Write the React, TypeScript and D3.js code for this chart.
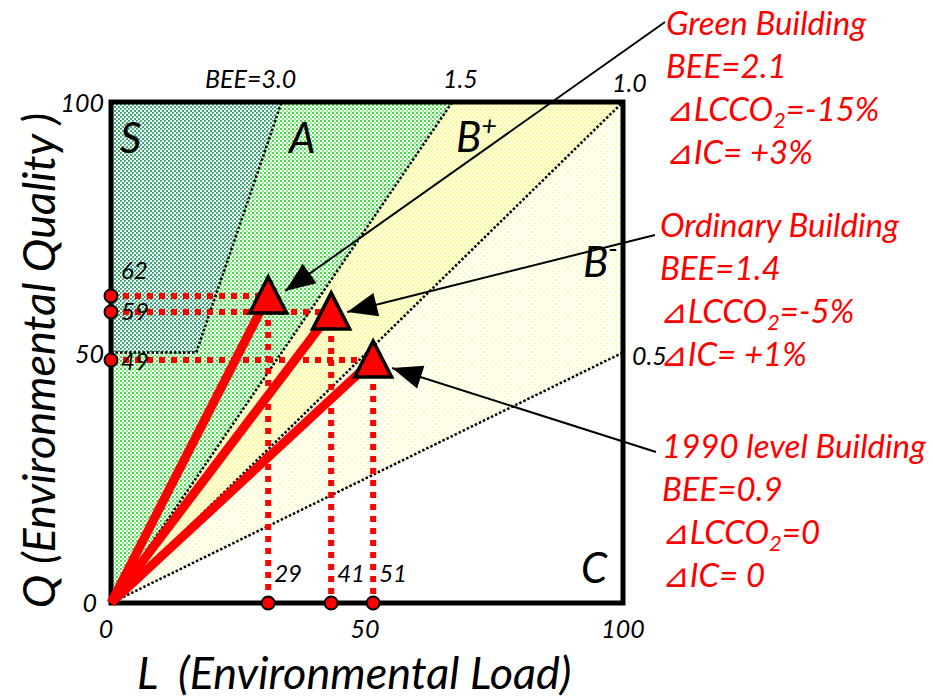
import React from "react";
import * as d3 from "d3";

// ---- data ----
const beeLines = [3.0, 1.5, 1.0, 0.5];
const beeLabels = ["BEE=3.0", "1.5", "1.0", "0.5"];
const rankNames = ["S", "A", "B", "B", "C"];
const buildingNames = ["Green Building", "Ordinary Building", "1990 level Building"];
const buildingBEE = ["2.1", "1.4", "0.9"];
const buildingLCCO2 = ["-15%", "-5%", "0"];
const buildingIC = [" +3%", " +1%", " 0"];
const buildingL = [30.7, 43.0, 51.2]; // plotted positions (L)
const buildingQ = [61.3, 58.1, 48.5]; // plotted positions (Q)
const xValueLabels = ["29", "41", "51"];
const yValueLabels = ["62", "59", "49"];
const axisTicks = [0, 50, 100];

const W = 933;
const H = 699;
const x = d3.scaleLinear().domain([0, 100]).range([111, 623]);
const y = d3.scaleLinear().domain([0, 100]).range([603, 102]);

const FONT = "Lato, 'Open Sans', 'DejaVu Sans', sans-serif";
const RED = "#ff0000";

// layout of annotation text blocks
const noteX = [666, 660, 662];
const noteY = [35, 237, 458];
const noteLineStart: [number, number][] = [
  [665, 22],
  [655, 235],
  [656, 452],
];
const tipOffset: [number, number][] = [
  [17, -5],
  [16, 0],
  [19, 8],
];

const poly = (pts: [number, number][]) =>
  d3.line()(pts.map(([l, q]) => [x(l), y(q)] as [number, number])) + "Z";

export default function App() {
  const l3 = 100 / 3;
  const l15 = 100 / 1.5;
  const sRegion = poly([[0, 50], [50 / 3, 50], [l3, 100], [0, 100]]);
  const aRegion = poly([[0, 0], [l15, 100], [l3, 100], [50 / 3, 50], [0, 50]]);
  const bpRegion = poly([[0, 0], [100, 100], [l15, 100]]);
  const bmRegion = poly([[0, 0], [100, 50], [100, 100]]);

  const beeEnd = (b: number): [number, number] =>
    b >= 1 ? [100 / b, 100] : [100, 100 * b];

  const arrowHead = (sx: number, sy: number, tx: number, ty: number) => {
    const dx = tx - sx, dy = ty - sy;
    const len = Math.hypot(dx, dy);
    const ux = dx / len, uy = dy / len;
    const L = 30, Hw = 12;
    const bx = tx - ux * L, by = ty - uy * L;
    return `M${tx},${ty}L${bx - uy * Hw},${by + ux * Hw}L${bx + uy * Hw},${by - ux * Hw}Z`;
  };

  const tickFs = 25;

  return (
    <svg
      width={W}
      height={H}
      style={{ position: "absolute", left: 0, top: 0, background: "#fff" }}
      fontFamily={FONT}
    >
      <defs>
        <pattern id="pS" width="4" height="4" patternUnits="userSpaceOnUse">
          <rect width="4" height="4" fill="#f2faf6" />
          <rect x="0" y="0" width="2" height="2" fill="#3fa777" />
          <rect x="2" y="2" width="2" height="2" fill="#3fa777" />
          <rect x="1" y="1" width="1" height="1" fill="#a8d8c0" />
        </pattern>
        <pattern id="pA" width="4" height="4" patternUnits="userSpaceOnUse">
          <rect width="4" height="4" fill="#ffffff" />
          <rect x="0" y="0" width="2" height="2" fill="#3ee03e" />
          <rect x="2" y="2" width="2" height="2" fill="#8cf08c" />
        </pattern>
        <pattern id="pBp" width="4" height="4" patternUnits="userSpaceOnUse">
          <rect width="4" height="4" fill="#ffffdc" />
          <rect x="0" y="0" width="2" height="2" fill="#f7f7a0" />
          <rect x="2" y="2" width="2" height="2" fill="#fbfbb8" />
        </pattern>
        <pattern id="pBm" width="6" height="6" patternUnits="userSpaceOnUse">
          <rect width="6" height="6" fill="#fffff4" />
          <rect x="0" y="0" width="2" height="2" fill="#f9f9c0" />
          <rect x="3" y="3" width="2" height="2" fill="#f9f9c0" />
        </pattern>
      </defs>

      {/* regions */}
      <rect x={x(0)} y={y(100)} width={x(100) - x(0)} height={y(0) - y(100)} fill="#fff" />
      <path d={bmRegion} fill="url(#pBm)" />
      <path d={bpRegion} fill="url(#pBp)" />
      <path d={aRegion} fill="url(#pA)" />
      <path d={sRegion} fill="url(#pS)" />

      {/* BEE dotted lines */}
      {beeLines.map((b, i) => {
        const [le, qe] = beeEnd(b);
        const start = b === 3 ? [50 / 3, 50] : [0, 0];
        return (
          <line
            key={i}
            x1={x(start[0])}
            y1={y(start[1])}
            x2={x(le)}
            y2={y(qe)}
            stroke="#000"
            strokeWidth={2.5}
            strokeDasharray="2.5 2"
          />
        );
      })}
      <line x1={x(0)} y1={y(50)} x2={x(50 / 3)} y2={y(50)} stroke="#000" strokeWidth={2.5} strokeDasharray="2.5 2" />

      {/* BEE labels */}
      <text x={205} y={88} fontSize={tickFs} fontStyle="italic">{beeLabels[0]}</text>
      <text x={443} y={88} fontSize={tickFs} fontStyle="italic">{beeLabels[1]}</text>
      <text x={612} y={92} fontSize={tickFs} fontStyle="italic">{beeLabels[2]}</text>
      <text x={632} y={365} fontSize={tickFs} fontStyle="italic">{beeLabels[3]}</text>

      {/* rank labels */}
      <text x={120} y={153} fontSize={42} fontStyle="italic">{rankNames[0]}</text>
      <text x={289} y={153} fontSize={42} fontStyle="italic">{rankNames[1]}</text>
      <text x={456} y={152} fontSize={42} fontStyle="italic">
        {rankNames[2]}
        <tspan fontSize={27} dy={-17}>+</tspan>
      </text>
      <text x={583} y={277} fontSize={42} fontStyle="italic">
        {rankNames[3]}
        <tspan fontSize={27} dy={-19}>-</tspan>
      </text>
      <text x={581} y={583} fontSize={42} fontStyle="italic">{rankNames[4]}</text>

      {/* red dotted guide lines */}
      {buildingL.map((l, i) => (
        <g key={"g" + i} stroke={RED} strokeWidth={6} strokeDasharray="6 6" fill="none">
          <line x1={x(0)} y1={y(buildingQ[i])} x2={x(l)} y2={y(buildingQ[i])} />
          <line x1={x(l)} y1={y(buildingQ[i])} x2={x(l)} y2={y(0)} />
        </g>
      ))}

      {/* frame */}
      <rect
        x={x(0)}
        y={y(100)}
        width={x(100) - x(0)}
        height={y(0) - y(100)}
        fill="none"
        stroke="#000"
        strokeWidth={5}
      />

      {/* thick red vectors */}
      {buildingL.map((l, i) => (
        <line
          key={"v" + i}
          x1={x(0)}
          y1={y(0)}
          x2={x(l)}
          y2={y(buildingQ[i])}
          stroke={RED}
          strokeWidth={9}
        />
      ))}

      {/* triangles */}
      {buildingL.map((l, i) => {
        const cx = x(l), cy = y(buildingQ[i]);
        const d =
          d3.line()([
            [cx, cy - 19],
            [cx + 18.5, cy + 17],
            [cx - 18.5, cy + 17],
          ]) + "Z";
        return <path key={"t" + i} d={d} fill={RED} stroke="#000" strokeWidth={3.5} strokeLinejoin="miter" />;
      })}

      {/* axis circles */}
      {buildingL.map((l, i) => (
        <g key={"c" + i}>
          <circle cx={x(0)} cy={y(buildingQ[i])} r={6.5} fill={RED} stroke="#000" strokeWidth={2} />
          <circle cx={x(l)} cy={y(0)} r={6.5} fill={RED} stroke="#000" strokeWidth={2} />
        </g>
      ))}

      {/* value labels */}
      {yValueLabels.map((t, i) => (
        <text key={"yv" + i} x={121} y={[279, 320, 370][i]} fontSize={24} fontStyle="italic">{t}</text>
      ))}
      {xValueLabels.map((t, i) => (
        <text key={"xv" + i} x={x(buildingL[i]) + 6} y={582} fontSize={24} fontStyle="italic">{t}</text>
      ))}

      {/* axis tick labels */}
      {axisTicks.map((t) => (
        <text key={"yt" + t} x={t === 0 ? 97 : 104} y={y(t) + (t === 0 ? 9 : 10)} fontSize={tickFs} fontStyle="italic" textAnchor="end">
          {t}
        </text>
      ))}
      {axisTicks.map((t) => (
        <text key={"xt" + t} x={x(t) + (t === 0 ? -5 : t === 100 ? 0 : -2)} y={638} fontSize={tickFs} fontStyle="italic" textAnchor="middle">
          {t}
        </text>
      ))}

      {/* axis titles */}
      <text
        transform={`translate(55, ${(y(0) + y(100)) / 2 + 8}) rotate(-90)`}
        fontSize={45}
        fontStyle="italic"
        textAnchor="middle"
      >
        Q (Environmental Quality )
      </text>
      <text x={137} y={689} fontSize={45} fontStyle="italic" xmlSpace="preserve">
        L  (Environmental Load)
      </text>

      {/* annotations */}
      {buildingL.map((l, i) => {
        const tx = x(l) + tipOffset[i][0];
        const ty = y(buildingQ[i]) + tipOffset[i][1];
        const [sx, sy] = noteLineStart[i];
        return (
          <g key={"a" + i}>
            <line x1={sx} y1={sy} x2={tx} y2={ty} stroke="#000" strokeWidth={2} />
            <path d={arrowHead(sx, sy, tx, ty)} fill="#000" />
          </g>
        );
      })}
      {buildingNames.map((name, i) => (
        <text key={"n" + i} fill={RED} fontSize={33} fontStyle="italic" x={noteX[i]} y={noteY[i]}>
          <tspan x={noteX[i]} dy={0}>{name}</tspan>
          <tspan x={noteX[i]} dy={43}>{"BEE=" + buildingBEE[i]}</tspan>
          <tspan x={noteX[i]} dy={43}>⊿LCCO</tspan>
          <tspan fontSize={22} dy={7}>2</tspan>
          <tspan dy={-7}>{"=" + buildingLCCO2[i]}</tspan>
          <tspan x={noteX[i]} dy={43} xmlSpace="preserve">{"⊿IC=" + buildingIC[i]}</tspan>
        </text>
      ))}
    </svg>
  );
}
